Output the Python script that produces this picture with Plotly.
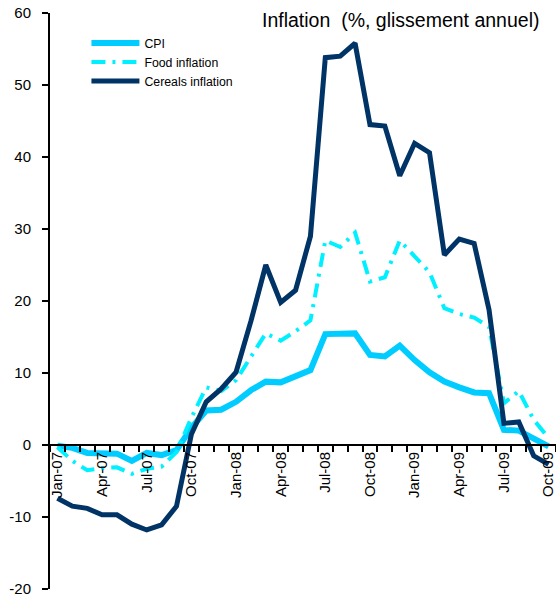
import plotly.graph_objects as go

months = ["Jan-07","Feb-07","Mar-07","Apr-07","May-07","Jun-07","Jul-07","Aug-07","Sep-07","Oct-07","Nov-07","Dec-07",
          "Jan-08","Feb-08","Mar-08","Apr-08","May-08","Jun-08","Jul-08","Aug-08","Sep-08","Oct-08","Nov-08","Dec-08",
          "Jan-09","Feb-09","Mar-09","Apr-09","May-09","Jun-09","Jul-09","Aug-09","Sep-09","Oct-09"]

cpi = [-0.1, -0.4, -1.1, -1.1, -1.2, -2.2, -1.1, -1.4, -0.7, 2.4, 4.8, 4.9,
       6.0, 7.6, 8.8, 8.7, 9.6, 10.4, 15.4, 15.5, 15.5, 12.5, 12.3, 13.8,
       11.8, 10.1, 8.8, 8.0, 7.3, 7.2, 2.1, 2.0, 1.0, -0.2]

food = [-0.3, -2.2, -3.5, -3.2, -3.1, -4.0, -3.3, -3.0, -1.0, 3.8, 8.0, 7.5,
        9.0, 12.3, 15.5, 14.5, 15.8, 17.3, 28.4, 27.5, 29.5, 22.7, 23.3, 28.4,
        26.2, 24.0, 19.0, 18.2, 17.7, 16.4, 5.8, 7.5, 3.5, 1.0]

cereals = [-7.4, -8.5, -8.8, -9.7, -9.7, -11.0, -11.8, -11.1, -8.5, 1.5, 6.0, 7.8,
           10.1, 17.2, 25.0, 19.8, 21.5, 29.0, 53.8, 54.0, 55.8, 44.5, 44.3, 37.4,
           41.9, 40.6, 26.4, 28.6, 28.0, 18.8, 3.0, 3.2, -1.5, -2.7]

tick_labels = [m if i % 3 == 0 else "" for i, m in enumerate(months)]

y_tickvals = [-20, -10, 0, 10, 20, 30, 40, 50, 60]
y_ticktext = ["-20", "-10", "0", "10", "20", "30", "40", "50", "60"]

FONT = "Arial, 'Liberation Sans', sans-serif"

fig = go.Figure()
fig.add_trace(go.Scatter(x=months, y=cpi, mode="lines", name="CPI",
                         line=dict(color="#00CCFF", width=6)))
fig.add_trace(go.Scatter(x=months, y=food, mode="lines", name="Food inflation",
                         line=dict(color="#00F0FF", width=4, dash="14px,7px,3px,7px")))
fig.add_trace(go.Scatter(x=months, y=cereals, mode="lines", name="Cereals inflation",
                         line=dict(color="#003366", width=5)))

fig.update_layout(
    width=556, height=603,
    margin=dict(l=50, r=0, t=13, b=14),
    paper_bgcolor="white", plot_bgcolor="white",
    font=dict(family=FONT, color="black"),
    showlegend=True,
    legend=dict(x=0.072, y=0.973, xanchor="left", yanchor="top",
                bgcolor="rgba(0,0,0,0)", font=dict(size=12.3, family=FONT),
                itemwidth=48, tracegroupgap=0),
    xaxis=dict(type="category", anchor="free", position=0.25, automargin=False,
               tickmode="array", tickvals=months, ticktext=tick_labels,
               tickson="boundaries", ticks="outside", ticklen=6, tickwidth=2,
               tickcolor="black", tickangle=-90, tickfont=dict(size=15, family=FONT),
               ticklabeloverflow="allow",
               showline=True, linecolor="black", linewidth=2,
               showgrid=False, zeroline=False, range=[-0.5, len(months) - 0.5]),
    yaxis=dict(range=[-20, 60], tickmode="array", tickvals=y_tickvals, ticktext=y_ticktext,
               ticks="outside", ticklen=6,
               tickwidth=2, tickcolor="black", showline=True, linecolor="black",
               linewidth=2, showgrid=False, zeroline=False, automargin=False,
               tickfont=dict(size=15, family=FONT), ticklabelstandoff=8),
    annotations=[dict(text="Inflation\u00a0 (%, glissement annuel)", xref="paper", yref="paper",
                      x=0.970, y=0.987, xanchor="right", yanchor="middle", showarrow=False,
                      font=dict(size=19.5, family=FONT, color="black"))],
)

fig.write_html("out.html", config={"displayModeBar": False},
               post_script="document.body.style.margin='0px';")
